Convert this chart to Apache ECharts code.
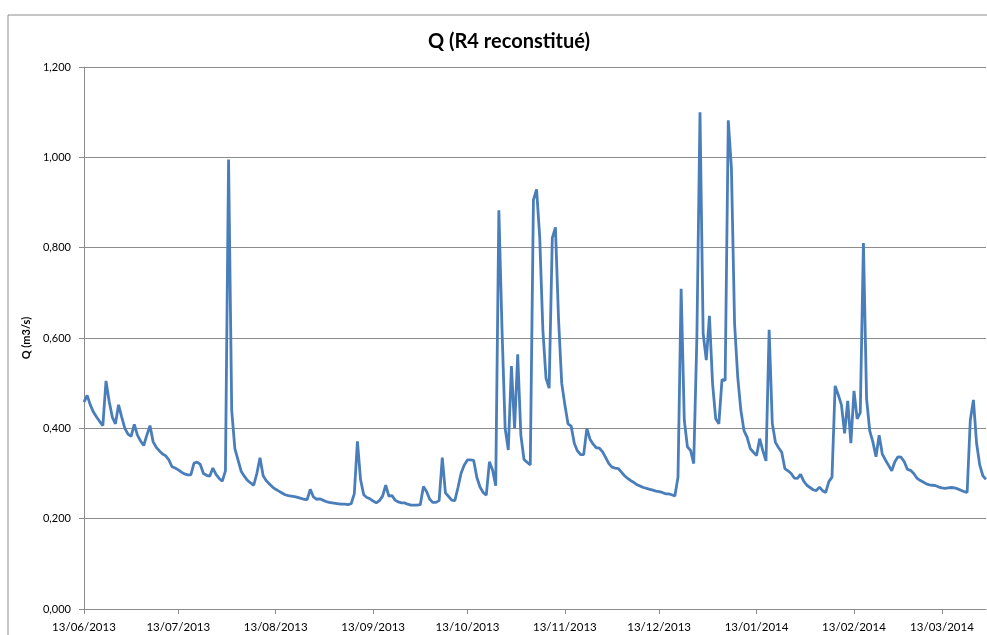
<!DOCTYPE html>
<html>
<head>
<meta charset="utf-8">
<title>Q (R4 reconstitué)</title>
<script src="https://cdn.jsdelivr.net/npm/echarts@6/dist/echarts.min.js"></script>
<style>
  html, body { margin: 0; padding: 0; background: #fff; }
  #chart { width: 987px; height: 635px; }
</style>
</head>
<body>
<div id="chart"></div>
<script>
// débit journalier, à partir du 13/06/2013
const startDate = new Date(2013, 5, 13)
const yTicks = [0, 0.2, 0.4, 0.6, 0.8, 1.0, 1.2]

const flowJunAug = [
  0.458, 0.473, 0.452, 0.436, 0.425, 0.415, 0.406, 0.505, 0.460, 0.425,
  0.410, 0.452, 0.425, 0.400, 0.387, 0.382, 0.409, 0.385, 0.372, 0.362,
  0.385, 0.406, 0.370, 0.358, 0.350, 0.343, 0.339, 0.330, 0.315, 0.312,
  0.308, 0.303, 0.299, 0.297, 0.297, 0.323, 0.325, 0.320, 0.300, 0.296,
  0.294, 0.312, 0.298, 0.289, 0.283, 0.306, 0.995, 0.440, 0.355, 0.330,
  0.305, 0.294, 0.285, 0.279, 0.274, 0.300, 0.335, 0.295, 0.284, 0.277,
  0.270, 0.265
]
const flowAugOct = [
  0.261, 0.257, 0.253, 0.251, 0.250, 0.249, 0.247, 0.245, 0.243, 0.242,
  0.265, 0.248, 0.243, 0.244, 0.241, 0.238, 0.236, 0.235, 0.234, 0.233,
  0.232, 0.232, 0.231, 0.233, 0.255, 0.371, 0.286, 0.253, 0.247, 0.244,
  0.239, 0.235, 0.240, 0.250, 0.274, 0.250, 0.251, 0.241, 0.237, 0.235,
  0.235, 0.232, 0.230, 0.230, 0.230, 0.231, 0.271, 0.260, 0.243, 0.236,
  0.236, 0.240, 0.335, 0.257, 0.249, 0.241, 0.240, 0.269, 0.301, 0.319,
  0.330, 0.330, 0.329, 0.291, 0.270, 0.258, 0.252, 0.326, 0.308, 0.273
]
const flowOctDec = [
  0.883, 0.620, 0.400, 0.352, 0.538, 0.400, 0.564, 0.385, 0.331, 0.325,
  0.319, 0.906, 0.929, 0.824, 0.618, 0.511, 0.489, 0.821, 0.845, 0.640,
  0.500, 0.452, 0.410, 0.405, 0.367, 0.350, 0.342, 0.342, 0.400, 0.376,
  0.365, 0.357, 0.356, 0.348, 0.335, 0.322, 0.314, 0.312, 0.311, 0.303,
  0.295, 0.289, 0.284, 0.280, 0.275, 0.272, 0.269, 0.267, 0.265, 0.263,
  0.261, 0.260, 0.258, 0.255, 0.255, 0.253, 0.250, 0.292
]
const flowDecFeb = [
  0.709, 0.418, 0.359, 0.351, 0.322, 0.600, 1.100, 0.610, 0.551, 0.649,
  0.499, 0.421, 0.410, 0.508, 0.506, 1.082, 0.975, 0.632, 0.514, 0.440,
  0.395, 0.380, 0.355, 0.347, 0.340, 0.377, 0.350, 0.328, 0.618, 0.411,
  0.369, 0.357, 0.347, 0.311, 0.306, 0.300, 0.290, 0.289, 0.298, 0.283,
  0.274, 0.269, 0.264, 0.262, 0.270, 0.262, 0.258, 0.282, 0.292
]
const flowFebMar = [
  0.494, 0.474, 0.452, 0.389, 0.461, 0.367, 0.483, 0.421, 0.435, 0.810,
  0.466, 0.395, 0.370, 0.337, 0.385, 0.343, 0.330, 0.318, 0.306, 0.326,
  0.337, 0.336, 0.326, 0.309, 0.307, 0.300, 0.290, 0.285, 0.281, 0.277,
  0.275, 0.274, 0.273, 0.270, 0.268, 0.267, 0.268, 0.269, 0.268, 0.266,
  0.263, 0.260, 0.258, 0.418, 0.463, 0.367, 0.319, 0.295, 0.287
]

const flow = [...flowJunAug, ...flowAugOct, ...flowOctDec, ...flowDecFeb, ...flowFebMar]

const pad = n => (n < 10 ? '0' : '') + n
const dates = flow.map((_, i) => {
  const d = new Date(startDate.getFullYear(), startDate.getMonth(), startDate.getDate() + i)
  return pad(d.getDate()) + '/' + pad(d.getMonth() + 1) + '/' + d.getFullYear()
})

const isMonthTick = (idx, val) => val.slice(0, 3) === '13/'
const font = 'Lato, "Open Sans", sans-serif'

const chart = echarts.init(document.getElementById('chart'))
chart.setOption({
  animation: false,
  textStyle: { fontFamily: font },
  title: {
    text: 'Q (R4 reconstitué)',
    left: 504,
    textAlign: 'center',
    top: 27,
    textStyle: { fontSize: 20, fontWeight: 'bold', color: '#000', fontFamily: font }
  },
  graphic: [{
    type: 'rect',
    shape: { x: 8, y: 15, width: 1000, height: 650 },
    style: { fill: 'none', stroke: '#8c8c8c', lineWidth: 1 },
    silent: true
  }],
  grid: { left: 84, right: 1, top: 67, bottom: 26 },
  xAxis: {
    type: 'category',
    data: dates,
    boundaryGap: false,
    axisLine: { lineStyle: { color: '#8c8c8c' } },
    axisTick: { interval: isMonthTick, length: 5, lineStyle: { color: '#8c8c8c' } },
    axisLabel: { interval: isMonthTick, color: '#000', fontSize: 11.5, margin: 12, fontFamily: font }
  },
  yAxis: {
    type: 'value',
    min: yTicks[0],
    max: yTicks[yTicks.length - 1],
    interval: 0.2,
    name: 'Q (m3/s)',
    nameLocation: 'middle',
    nameGap: 40,
    nameTextStyle: { fontSize: 11, fontWeight: 'bold', color: '#000', fontFamily: font },
    axisLine: { show: true, lineStyle: { color: '#8c8c8c' } },
    axisTick: { show: true, length: 5, lineStyle: { color: '#8c8c8c' } },
    axisLabel: {
      color: '#000',
      fontSize: 11,
      margin: 13,
      fontFamily: font,
      formatter: v => v.toFixed(3).replace('.', ',')
    },
    splitLine: { lineStyle: { color: '#8c8c8c' } }
  },
  series: [{
    name: 'Q',
    type: 'line',
    data: flow,
    showSymbol: false,
    lineStyle: { width: 2.8, color: '#4a7ebb' },
    itemStyle: { color: '#4a7ebb' }
  }]
})
</script>
</body>
</html>
